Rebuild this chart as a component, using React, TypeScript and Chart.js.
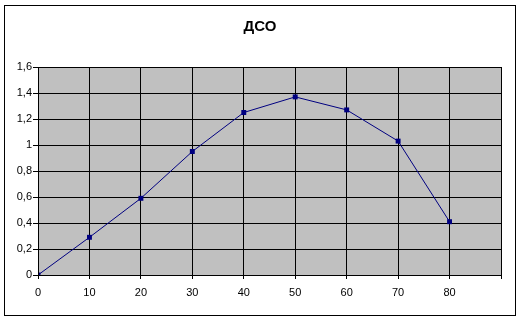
import React, { useEffect, useRef } from "react";
import { Chart, registerables } from "chart.js";

Chart.register(...registerables);

const title = "ДСО";
const xValues = [0, 10, 20, 30, 40, 50, 60, 70, 80];
const yValues = [0, 0.29, 0.59, 0.95, 1.25, 1.37, 1.27, 1.03, 0.41];

const FONT = "'Liberation Sans', Arial, sans-serif";

const framePlugin = {
  id: "frame",
  beforeDraw(chart: any) {
    const { ctx, chartArea } = chart;
    ctx.save();
    ctx.fillStyle = "#ffffff";
    ctx.fillRect(0, 0, chart.width, chart.height);
    ctx.fillStyle = "#c0c0c0";
    ctx.fillRect(chartArea.left, chartArea.top, chartArea.right - chartArea.left, chartArea.bottom - chartArea.top);
    ctx.restore();
  },
  afterDraw(chart: any) {
    const { ctx, chartArea } = chart;
    ctx.save();
    ctx.strokeStyle = "#000000";
    ctx.lineWidth = 1;
    ctx.strokeRect(4.5, 5.5, 511, 310);
    ctx.strokeStyle = "#000000";
    ctx.strokeRect(
      Math.round(chartArea.left) + 0.5,
      Math.round(chartArea.top) + 0.5,
      Math.round(chartArea.right - chartArea.left),
      Math.round(chartArea.bottom - chartArea.top)
    );
    ctx.fillStyle = "#000000";
    ctx.font = `bold 15px ${FONT}`;
    ctx.textAlign = "center";
    ctx.textBaseline = "alphabetic";
    ctx.fillText(title, 260, 30.5);
    ctx.restore();
  },
};

export default function App() {
  const ref = useRef<HTMLCanvasElement | null>(null);
  useEffect(() => {
    if (!ref.current) return;
    const chart = new Chart(ref.current, {
      type: "scatter",
      data: {
        datasets: [
          {
            data: xValues.map((x, i) => ({ x, y: yValues[i] })),
            showLine: true,
            borderColor: "#000080",
            backgroundColor: "#000080",
            borderWidth: 1,
            pointStyle: "rect",
            pointRadius: 3.5,
            pointBorderWidth: 0,
          },
        ],
      },
      options: {
        responsive: false,
        animation: false,
        devicePixelRatio: 1,
        layout: { padding: { left: 0, right: 20, top: 67, bottom: 0 } },
        plugins: { legend: { display: false }, tooltip: { enabled: false }, title: { display: false } },
        scales: {
          x: {
            type: "linear",
            min: 0,
            max: 90,
            afterFit: (s: any) => {
              s.height = 45;
            },
            grid: { color: "#000000", lineWidth: 1, tickLength: 4, drawTicks: true },
            border: { color: "#000000" },
            ticks: {
              stepSize: 10,
              color: "#000000",
              padding: 7,
              maxRotation: 0,
              font: { family: FONT, size: 11 },
              callback: (v: any) => (Number(v) >= 90 ? "" : String(v)),
            },
          },
          y: {
            min: 0,
            max: 1.6,
            afterFit: (s: any) => {
              s.width = 38;
            },
            grid: { color: "#000000", lineWidth: 1, tickLength: 5, drawTicks: true },
            border: { color: "#000000" },
            ticks: {
              stepSize: 0.2,
              color: "#000000",
              padding: 1,
              font: { family: FONT, size: 11 },
              callback: (v: any) => String(Math.round(Number(v) * 10) / 10).replace(".", ","),
            },
          },
        },
      },
      plugins: [framePlugin],
    } as any);
    return () => chart.destroy();
  }, []);
  return (
    <div style={{ position: "absolute", left: 0, top: 0, width: 521, height: 320 }}>
      <canvas ref={ref} width={521} height={320} style={{ width: 521, height: 320 }} />
    </div>
  );
}
